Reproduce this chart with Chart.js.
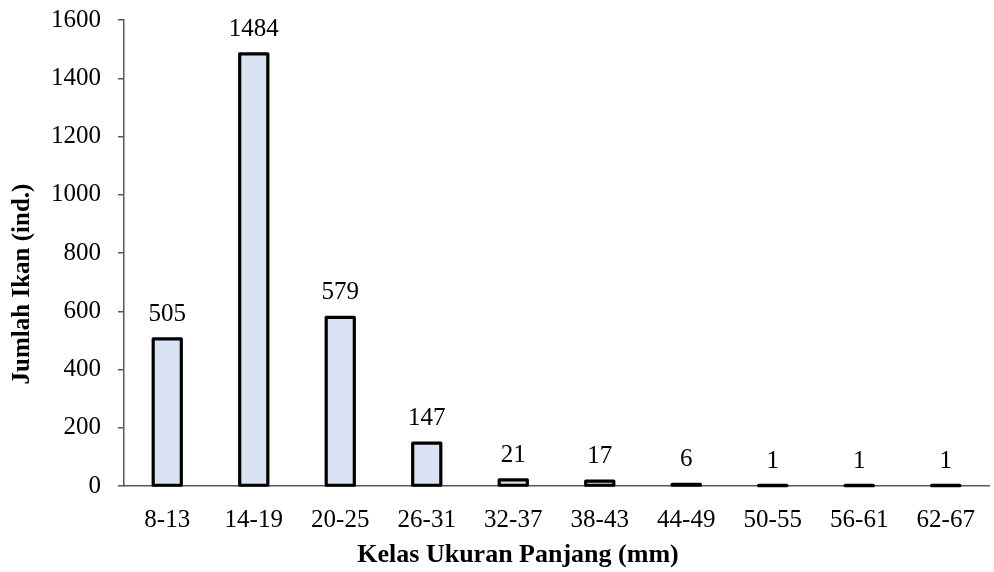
<!DOCTYPE html>
<html><head><meta charset="utf-8">
<script src="https://cdn.jsdelivr.net/npm/chart.js@4/dist/chart.umd.min.js"></script>
<style>html,body{margin:0;padding:0;background:#fff}#wrap{width:994px;height:572px}</style>
</head><body><div id="wrap"><canvas id="c" width="994" height="572"></canvas></div>
<script>
const categories = ['8-13','14-19','20-25','26-31','32-37','38-43','44-49','50-55','56-61','62-67'];
const counts = [505,1484,579,147,21,17,6,1,1,1];
const yTicks = [0,200,400,600,800,1000,1200,1400,1600];
const xTitle = 'Kelas Ukuran Panjang (mm)';
const yTitle = 'Jumlah Ikan (ind.)';
const FONT = '"Liberation Serif", "Times New Roman", serif';

const decorPlugin = {
  id: 'decor',
  afterDatasetsDraw(chart) {
    const ctx = chart.ctx;
    const meta = chart.getDatasetMeta(0);
    ctx.save();
    // bar outlines (centred stroke, like the original)
    ctx.strokeStyle = '#000';
    ctx.lineWidth = 3.2;
    ctx.lineJoin = 'round';
    meta.data.forEach(bar => {
      const p = bar.getProps(['x','y','base','width'], true);
      ctx.strokeRect(p.x - p.width / 2, p.y, p.width, p.base - p.y);
    });
    // value labels
    ctx.font = '25px ' + FONT;
    ctx.fillStyle = '#000';
    ctx.textAlign = 'center';
    ctx.textBaseline = 'alphabetic';
    meta.data.forEach((bar, i) => {
      ctx.fillText(String(counts[i]), bar.x, bar.y - 18);
    });
    // axis titles
    ctx.font = 'bold 26px ' + FONT;
    ctx.fillText(xTitle, 518, 562);
    ctx.translate(29, 284);
    ctx.rotate(-Math.PI / 2);
    ctx.font = 'bold 25px ' + FONT;
    ctx.fillText(yTitle, 0, 0);
    ctx.restore();
  }
};

new Chart(document.getElementById('c'), {
  type: 'bar',
  data: {
    labels: categories,
    datasets: [{
      data: counts,
      backgroundColor: '#dae3f3',
      borderWidth: 0,
      barPercentage: 0.325,
      categoryPercentage: 1.0
    }]
  },
  options: {
    responsive: false,
    animation: false,
    devicePixelRatio: 1,
    layout: { padding: { top: 20, right: 5, bottom: 0, left: 0 } },
    plugins: { legend: { display: false }, tooltip: { enabled: false } },
    scales: {
      x: {
        afterFit(axis) { axis.height = 86; axis.paddingLeft = 0; axis.paddingRight = 0; },
        grid: { display: false },
        border: { display: true, color: '#595959', width: 1.5 },
        ticks: { color: '#000', font: { family: FONT, size: 25 }, padding: 11, maxRotation: 0 }
      },
      y: {
        min: 0, max: 1600,
        afterBuildTicks(axis) { axis.ticks = yTicks.map(v => ({ value: v })); },
        afterFit(axis) { axis.width = 124; axis.paddingTop = 0; axis.paddingBottom = 0; },
        grid: { drawOnChartArea: false, drawTicks: true, tickLength: 6, color: '#595959', lineWidth: 1.5 },
        border: { display: true, color: '#595959', width: 1.5 },
        ticks: { color: '#000', font: { family: FONT, size: 25 }, padding: 17,
                 callback: v => String(v) }
      }
    }
  },
  plugins: [decorPlugin]
});
</script></body></html>
